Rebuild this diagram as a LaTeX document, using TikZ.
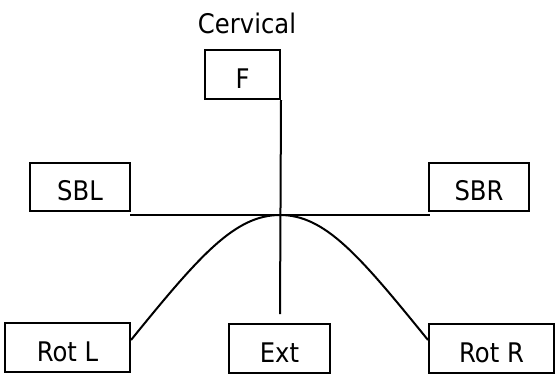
\documentclass[tikz,border=0pt]{standalone}
\usepackage{fontspec}
\setmainfont{DejaVu Sans}[FakeStretch=0.9]
\begin{document}
\begin{tikzpicture}[x=1pt, y=-1pt, line width=2pt,
  box/.style={draw, inner sep=0pt, minimum height=49pt,
    text height=27.8pt, text depth=0pt,
    font=\fontsize{27}{30}\selectfont},
  title/.style={inner sep=0pt, anchor=base,
    font=\fontsize{27}{30}\selectfont}]
\useasboundingbox (0,0) rectangle (559,376);

% heading
\node[title] (cerv) at (247,33) {Cervical};

% movement boxes
\node[box, minimum width=75pt]  (F)    at (242.5,74.5) {F};
\node[box, minimum width=100pt, minimum height=48pt] (SBL) at (80,187) {SBL};
\node[box, minimum width=100pt, minimum height=48pt] (SBR) at (479,187) {SBR};
\node[box, minimum width=125pt] (RotL) at (67.5,347.5) {Rot L};
\node[box, minimum width=101pt] (Ext)  at (279.5,348.5) {Ext};
\node[box, minimum width=125pt] (RotR) at (491.5,348.5) {Rot R};

% axes
\coordinate (apex) at (280,215);
\coordinate (hl)   at (130,215);
\coordinate (hr)   at (430,215);
\coordinate (vend) at (280,314);
\draw (F.south east) -- (vend);
\draw (hl) -- (hr);

% bell curve through the apex
\draw ([yshift=7.5pt]RotL.east) .. controls (200,255) and (235,215) .. (apex)
      .. controls (325,215) and (359,255) .. ([yshift=8.5pt]RotR.west);
\end{tikzpicture}
\end{document}
